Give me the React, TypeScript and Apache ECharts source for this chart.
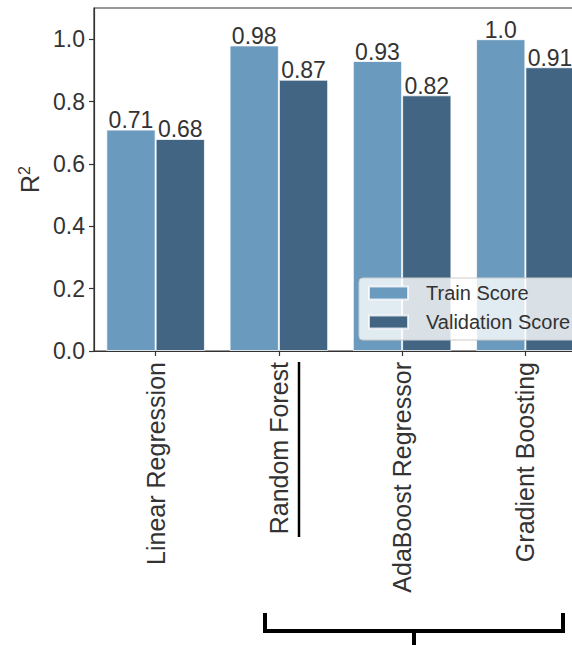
import React, { useEffect, useRef } from "react";
import * as echarts from "echarts";

// Model comparison: R² on train and validation splits
const models = ["Linear Regression", "Random Forest", "AdaBoost Regressor", "Gradient Boosting"];
const trainScores = [0.71, 0.98, 0.93, 1.0];
const validationScores = [0.68, 0.87, 0.82, 0.91];
const yTicks = [0, 0.2, 0.4, 0.6, 0.8, 1.0];

const FONT = "'Liberation Sans', Arial, sans-serif";
const TEXT = "#333333";
const TRAIN_COLOR = "#6a9bbf";
const VALID_COLOR = "#416582";

const fmt = (v: number) => (Number.isInteger(v) ? v.toFixed(1) : String(v));

export default function App() {
  const ref = useRef<HTMLDivElement>(null);

  useEffect(() => {
    if (!ref.current) return;
    const chart = echarts.init(ref.current, undefined, { renderer: "svg" });

    const barLabel = {
      show: true,
      position: "top" as const,
      distance: -2,
      color: TEXT,
      fontFamily: FONT,
      fontSize: 23,
      lineHeight: 23,
      formatter: (p: any) => fmt(p.value),
    };

    chart.setOption({
      animation: false,
      textStyle: { fontFamily: FONT },
      grid: {
        left: 94,
        top: 8,
        right: 13,
        bottom: 294,
        show: true,
        borderColor: "#333",
        borderWidth: 1.2,
        backgroundColor: "transparent",
        containLabel: false,
        outerBoundsMode: "none",
      },
      legend: {
        orient: "vertical",
        left: 359,
        top: 278,
        icon: "rect",
        itemWidth: 39,
        itemHeight: 13,
        itemGap: 9,
        padding: [5, 9, 8, 9],
        backgroundColor: "rgba(255,255,255,0.8)",
        borderColor: "#cccccc",
        borderWidth: 1,
        borderRadius: 4,
        textStyle: {
          color: TEXT,
          fontFamily: FONT,
          fontSize: 20,
          lineHeight: 20,
          padding: [0, 0, 0, 13],
        },
        data: ["Train Score", "Validation Score"],
      },
      xAxis: {
        type: "category",
        data: models,
        boundaryGap: true,
        axisLine: { show: true, lineStyle: { color: "#333", width: 1.2 } },
        axisTick: {
          show: true,
          alignWithLabel: true,
          length: 5,
          lineStyle: { color: "#333", width: 1.2 },
        },
        axisLabel: {
          rotate: 90,
          margin: 11,
          color: TEXT,
          fontFamily: FONT,
          fontSize: 25,
        },
        splitLine: { show: false },
      },
      yAxis: {
        type: "value",
        min: 0,
        max: 1.1,
        name: "{r|R}{s|2}",
        nameLocation: "middle",
        nameRotate: 90,
        nameGap: 51,
        nameTextStyle: {
          color: TEXT,
          fontFamily: FONT,
          rich: {
            r: { fontSize: 25, lineHeight: 26, color: TEXT, fontFamily: FONT },
            s: { fontSize: 16, verticalAlign: "top", color: TEXT, fontFamily: FONT },
          },
        },
        axisLine: { show: true, lineStyle: { color: "#333", width: 1.2 } },
        axisTick: {
          show: true,
          length: 5,
          customValues: yTicks,
          lineStyle: { color: "#333", width: 1.2 },
        },
        axisLabel: {
          customValues: yTicks,
          margin: 9,
          color: TEXT,
          fontFamily: FONT,
          fontSize: 23,
          formatter: (v: number) => v.toFixed(1),
        },
        splitLine: { show: false },
      },
      series: [
        {
          name: "Train Score",
          type: "bar",
          data: trainScores,
          barGap: "0%",
          barCategoryGap: "20%",
          itemStyle: {
            color: TRAIN_COLOR,
            borderColor: "rgba(255,255,255,0.75)",
            borderWidth: 1,
          },
          label: barLabel,
        },
        {
          name: "Validation Score",
          type: "bar",
          data: validationScores,
          barGap: "0%",
          barCategoryGap: "20%",
          itemStyle: {
            color: VALID_COLOR,
            borderColor: "rgba(255,255,255,0.75)",
            borderWidth: 1,
          },
          label: barLabel,
        },
      ],
      graphic: [
        {
          type: "line",
          shape: { x1: 299, y1: 362, x2: 299, y2: 537 },
          style: { stroke: "#000", lineWidth: 2.5 },
        },
        {
          type: "polyline",
          shape: {
            points: [
              [265, 613],
              [265, 631],
              [563, 631],
              [563, 613],
            ],
          },
          style: { stroke: "#000", lineWidth: 4, fill: "none" },
        },
        {
          type: "line",
          shape: { x1: 414, y1: 631, x2: 414, y2: 645 },
          style: { stroke: "#000", lineWidth: 4 },
        },
      ],
    });

    return () => chart.dispose();
  }, []);

  return (
    <div
      style={{
        position: "fixed",
        left: 0,
        top: 0,
        width: 572,
        height: 645,
        overflow: "hidden",
        background: "#fff",
      }}
    >
      <div ref={ref} style={{ width: 600, height: 645 }} />
    </div>
  );
}
